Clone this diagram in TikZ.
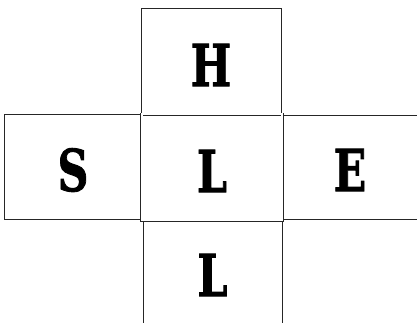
\documentclass[tikz,border=0pt]{standalone}
\usepackage{fontspec}
\newfontfamily\slabfont[BoldFeatures={FakeBold=1.6}]{DejaVu Serif}
\newcommand{\cletter}[2]{\raisebox{\dimexpr-0.5\fontcharht\font`#1-#2\relax}[0pt][0pt]{\scalebox{0.74}[1]{#1}}}
\begin{document}
\begin{tikzpicture}[x=1bp,y=-1bp,
  cell/.style={draw=black!85, line width=0.9bp, inner sep=0pt, outer sep=0pt,
    font=\slabfont\bfseries\fontsize{58}{58}\selectfont}]
\useasboundingbox (0,0) rectangle (417,323);
\clip (0,0) rectangle (417,323);
\node[cell, minimum width=140bp, minimum height=106bp] (top) at (211,61) {\cletter{H}{4bp}};
\node[cell, minimum width=138bp, minimum height=105bp] (left) at (73,166.5) {\cletter{S}{3.5bp}};
\node[cell, minimum width=136bp, minimum height=104bp] (right) at (350,167) {\cletter{E}{3bp}};
\node[cell, minimum width=139bp, minimum height=110bp] (bottom) at (212.5,275) {\cletter{L}{0bp}};
\node[cell, minimum width=140bp, minimum height=106bp, line width=0.8bp,
  double, double distance=1.4bp] (mid) at (212,167) {\cletter{L}{4bp}};
\end{tikzpicture}
\end{document}
